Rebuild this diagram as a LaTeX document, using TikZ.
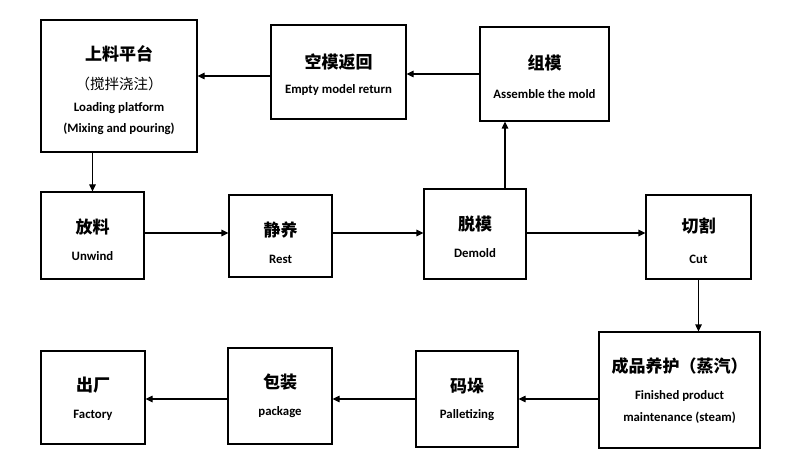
\documentclass[tikz,border=0pt]{standalone}
\usepackage{fontspec}
\setmainfont{Carlito}
\newfontfamily\cjk{Noto Sans CJK SC}
\usetikzlibrary{arrows.meta}
\tikzset{
  box/.style={draw, line width=1.2pt, inner sep=0pt, rectangle},
  zh/.style={font=\cjk\bfseries\fontsize{17}{20}\selectfont, inner sep=0pt},
  zhs/.style={font=\cjk\fontsize{14.5}{17}\selectfont, inner sep=0pt},
  en/.style={font=\bfseries\fontsize{12.8}{15}\selectfont, inner sep=0pt},
  arr/.style={line width=1.2pt, -{Triangle[length=7pt,width=6.5pt]}},
}
\begin{document}
\begin{tikzpicture}[x=1pt,y=-1pt]
\useasboundingbox[fill=white] (0,0) rectangle (800,470);
% boxes
\node[box, minimum width=156, minimum height=132] (shang) at (119,86) {};
\node[box, minimum width=135, minimum height=94] (kong) at (338.5,72) {};
\node[box, minimum width=129, minimum height=94] (zu) at (544.5,74) {};
\node[box, minimum width=103, minimum height=87] (fang) at (92.5,235.5) {};
\node[box, minimum width=103, minimum height=82] (jing) at (280.5,236) {};
\node[box, minimum width=102, minimum height=90] (tuo) at (475,234) {};
\node[box, minimum width=105, minimum height=84] (qie) at (698.5,237) {};
\node[box, minimum width=104, minimum height=93] (chu) at (93,397.5) {};
\node[box, minimum width=104, minimum height=96] (bao) at (280,396) {};
\node[box, minimum width=102, minimum height=96] (ma) at (467,399) {};
\node[box, minimum width=161, minimum height=116] (cheng) at (679.5,390) {};
% texts
\node[zh] (shang1) at (119,54) {上料平台};
\node[zhs] (shang2) at (119,84) {（搅拌浇注）};
\node[en] (shang3) at (119,108) {Loading platform};
\node[en] (shang4) at (119,129) {(Mixing and pouring)};
\node[zh] (kong1) at (338.5,62) {空模返回};
\node[en] (kong2) at (338.5,90) {Empty model return};
\node[zh] (zu1) at (544.5,63) {组模};
\node[en] (zu2) at (544.5,94) {Assemble the mold};
\node[zh] (fang1) at (92.5,227) {放料};
\node[en] (fang2) at (92.5,256) {Unwind};
\node[zh] (jing1) at (280.5,230) {静养};
\node[en] (jing2) at (280.5,259) {Rest};
\node[zh] (tuo1) at (475,224) {脱模};
\node[en] (tuo2) at (475,253) {Demold};
\node[zh] (qie1) at (698.5,226) {切割};
\node[en] (qie2) at (698.5,259) {Cut};
\node[zh] (chu1) at (93,385) {出厂};
\node[en] (chu2) at (93,415) {Factory};
\node[zh] (bao1) at (280,382) {包装};
\node[en] (bao2) at (280,412) {package};
\node[zh] (ma1) at (467,386) {码垛};
\node[en] (ma2) at (467,415) {Palletizing};
\node[zh] (cheng1) at (679.5,366) {成品养护（蒸汽）};
\node[en] (cheng2) at (679.5,396) {Finished product};
\node[en] (cheng3) at (679.5,418) {maintenance (steam)};
% arrows
\coordinate (a1) at ([yshift=-4pt]kong.west);
\draw[arr] (a1) -- (a1 -| shang.east);
\coordinate (a2) at (zu.west);
\draw[arr] (a2) -- (a2 -| kong.east);
\coordinate (a3) at (shang.south -| fang.north);
\draw[arr] (shang.south -| fang.north) -- (fang.north);
\coordinate (a4) at ([yshift=2.5pt]fang.east);
\draw[arr] (a4) -- (a4 -| jing.west);
\coordinate (a5) at ([yshift=3pt]jing.east);
\draw[arr] (a5) -- (a5 -| tuo.west);
\coordinate (a6) at ([xshift=30pt]tuo.north);
\draw[arr] (a6) -- (a6 |- zu.south);
\coordinate (a7) at ([yshift=1pt]tuo.east);
\draw[arr] (a7) -- (a7 -| qie.west);
\coordinate (a8) at (qie.south);
\draw[arr] (a8) -- (a8 |- cheng.north);
\coordinate (a9) at ([yshift=-9pt]cheng.west);
\draw[arr] (a9) -- (a9 -| ma.east);
\draw[arr] (a9 -| ma.west) -- (a9 -| bao.east);
\draw[arr] (a9 -| bao.west) -- (a9 -| chu.east);
\end{tikzpicture}
\end{document}
